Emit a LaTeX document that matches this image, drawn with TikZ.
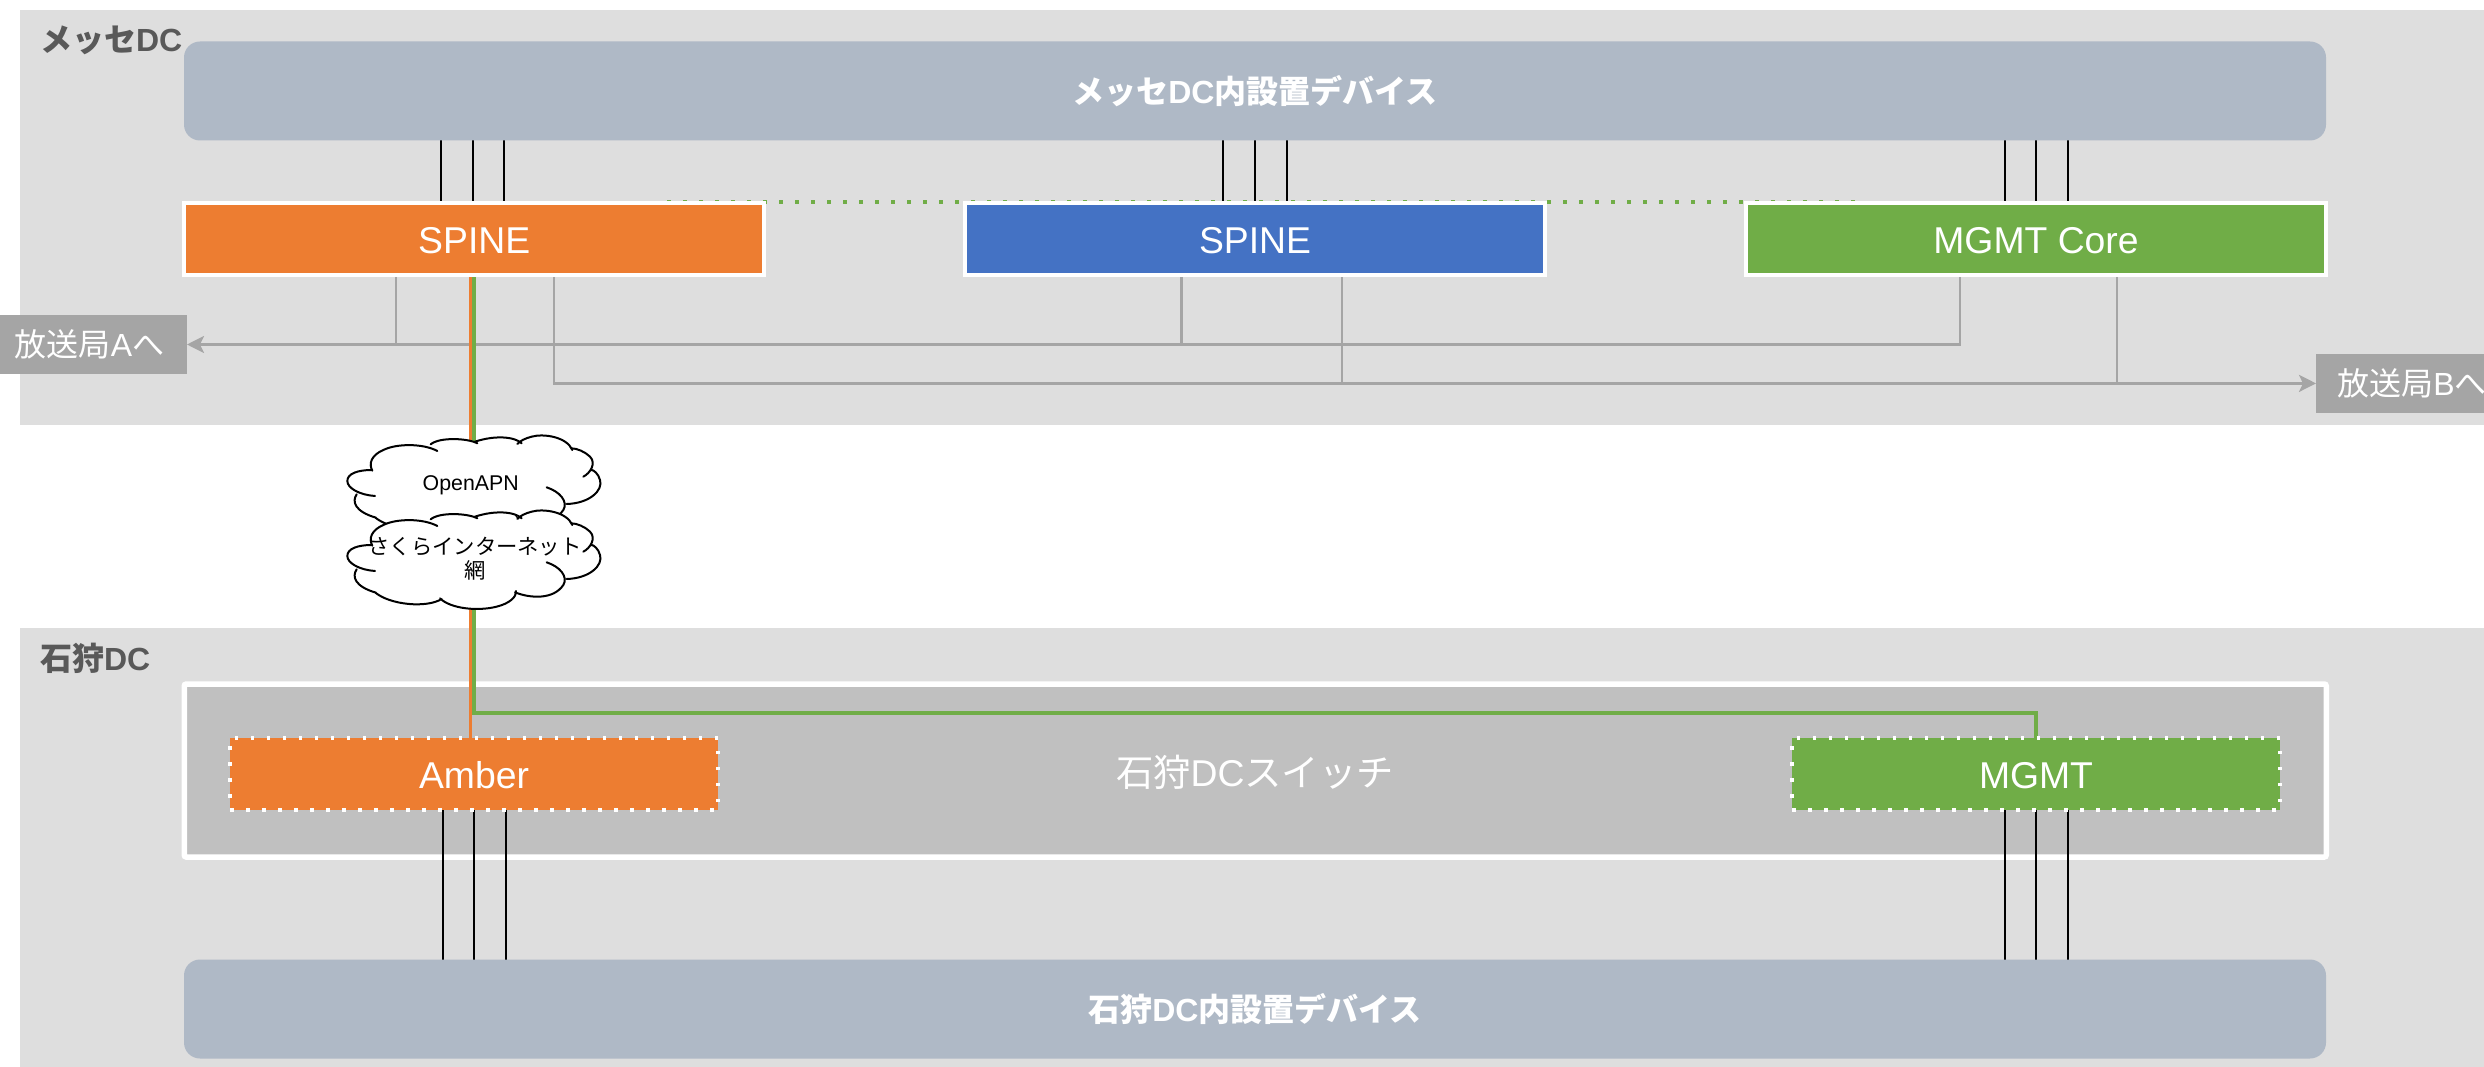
\documentclass[tikz,border=0pt]{standalone}
\usepackage{fontspec}
\setmainfont{Liberation Sans}
\newfontfamily\cjk{Noto Sans CJK JP}
\usetikzlibrary{arrows.meta,calc}
\definecolor{panelgray}{HTML}{DEDEDE}
\definecolor{devgray}{HTML}{AFB9C6}
\definecolor{swgray}{HTML}{C0C0C0}
\definecolor{outgray}{HTML}{A5A5A5}
\definecolor{labgray}{HTML}{595959}
\definecolor{orangeC}{HTML}{ED7D31}
\definecolor{blueC}{HTML}{4472C4}
\definecolor{greenC}{HTML}{70AD47}
\pgfdeclarelayer{panels}
\pgfdeclarelayer{links}
\pgfsetlayers{panels,links,main}
\newcommand{\fs}[1]{\fontsize{#1}{#1}\selectfont}
\tikzset{
  every node/.style={outer sep=0pt,inner sep=0pt},
  panelbox/.style={fill=panelgray,minimum width=2470pt},
  panellabel/.style={anchor=west,text=labgray,font=\fs{32}\bfseries},
  devbox/.style={fill=devgray,rounded corners=16pt,minimum width=2142pt,minimum height=99pt,text=white,font=\fs{32}\bfseries},
  corebox/.style={draw=white,line width=4pt,minimum width=580pt,minimum height=72pt,text=white,font=\fs{37.33},text height=28.2pt,text depth=0pt},
  edgebox/.style={draw=white,line width=3.5pt,dash pattern=on 3.5pt off 12.5pt,minimum width=488pt,minimum height=72pt,text=white,font=\fs{37.33},text height=28.2pt,text depth=0pt},
  swbox/.style={draw=white,line width=5.5pt,fill=swgray,rounded corners=2pt,minimum width=2142pt,minimum height=173pt},
  extbox/.style={fill=outgray,minimum width=192pt,minimum height=59pt,text=white,font=\fs{32}},
  tie/.style={draw=black,line width=2pt},
  uplink/.style={draw=outgray,line width=2.7pt},
  uparrow/.style={uplink,-{Stealth[length=17pt,width=17pt,inset=4pt]}},
  orangelink/.style={draw=orangeC,line width=3.7pt},
  greenlink/.style={draw=greenC,line width=3.7pt},
  dotlink/.style={draw=greenC,line width=3.5pt,dash pattern=on 4pt off 12pt},
  cloudline/.style={draw=black,line width=2pt,line cap=round},
  cloudtext/.style={text=black,font=\fs{21.33},align=center},
}
\newcommand{\cloudshape}[1]{%
\begin{scope}[shift={(#1)},x=0.33333pt,y=-0.33333pt]
\fill[white] (97,347) .. controls (85,325) and (95,300) .. (130,285) .. controls (170,265) and (250,265) .. (272,268)
 .. controls (300,245) and (385,250) .. (405,260) .. controls (465,240) and (525,245) .. (532,267)
 .. controls (540,258) and (555,250) .. (575,245) .. controls (610,235) and (680,245) .. (695,280)
 .. controls (710,280) and (735,290) .. (750,305) .. controls (770,325) and (760,340) .. (755,345)
 .. controls (760,345) and (775,355) .. (780,375) .. controls (790,405) and (750,445) .. (680,447)
 .. controls (680,455) and (675,460) .. (670,465) .. controls (640,510) and (570,505) .. (528,483)
 .. controls (530,500) and (510,520) .. (470,530) .. controls (410,545) and (330,535) .. (305,507)
 .. controls (260,535) and (150,525) .. (108,488) .. controls (45,470) and (35,440) .. (50,418)
 .. controls (22,400) and (22,390) .. (22,378) .. controls (22,355) and (55,345) .. (97,347) -- cycle;
\draw[cloudline] (97,347) .. controls (85,325) and (95,300) .. (130,285) .. controls (170,265) and (250,265) .. (292,288)
 (272,268) .. controls (300,245) and (385,250) .. (412,265)
 (405,260) .. controls (465,240) and (525,245) .. (545,265)
 (532,267) .. controls (540,258) and (555,250) .. (575,245) .. controls (610,235) and (680,245) .. (697,285)
 (695,280) .. controls (710,280) and (735,290) .. (750,305) .. controls (770,325) and (750,355) .. (730,365)
 (755,345) .. controls (760,345) and (775,355) .. (780,375) .. controls (790,405) and (750,445) .. (680,447)
 (620,397) .. controls (660,410) and (685,440) .. (670,465) .. controls (640,510) and (570,505) .. (525,487)
 (528,483) .. controls (530,500) and (510,520) .. (470,530) .. controls (410,545) and (330,535) .. (300,505)
 (305,507) .. controls (260,535) and (150,525) .. (105,487)
 (108,488) .. controls (45,470) and (35,440) .. (50,418)
 (105,423) .. controls (60,420) and (22,400) .. (22,378) .. controls (22,355) and (55,345) .. (95,345);
\end{scope}}
\begin{document}
\begin{tikzpicture}[x=1pt,y=-1pt]
\useasboundingbox (0,0) rectangle (2484,1067);

% panels
\begin{pgfonlayer}{panels}
\fill[white] (0,0) rectangle (2484,1067);
\node[panelbox,minimum height=415pt] (panelM) at (1255,217.5) {};
\node[panelbox,minimum height=442pt] (panelI) at (1255,849) {};
\node[swbox] (switch) at (1255.25,770.5) {};
\end{pgfonlayer}

\node[panellabel] (labM) at (40,40) {{\cjk メッセ}DC};
\node[panellabel] (labI) at (40,658) {{\cjk 石狩}DC};

% devices
\node[devbox] (devM) at (1255,91) {{\cjk メッセ}DC{\cjk 内設置デバイス}};
\node[devbox] (devI) at (1255,1009) {{\cjk 石狩}DC{\cjk 内設置デバイス}};

% core switches
\node[corebox,fill=orangeC] (spineO) at (474.25,239) {SPINE};
\node[corebox,fill=blueC] (spineB) at (1255,239) {SPINE};
\node[corebox,fill=greenC] (coreG) at (2036,239) {MGMT Core};

% Ishikari
\node[text=white,font=\fs{37.33}] (swlabel) at (1255,772) {{\cjk 石狩}DC{\cjk スイッチ}};
\node[edgebox,fill=orangeC] (amber) at (474,774) {Amber};
\node[edgebox,fill=greenC] (mgmt) at (2036,774) {MGMT};

% external
\node[extbox] (extA) at (91,344.5) {\hspace*{-3pt}{\cjk 放送局}A{\cjk へ}};
\node[extbox] (extB) at (2412,383.4) {{\cjk 放送局}B{\cjk へ}};

% clouds
\cloudshape{340,355}
\node[cloudtext] (cloudA) at (470.7,485) {OpenAPN};
\cloudshape{340,430}
\node[cloudtext] (cloudB) at (475,558.5) {{\cjk さくらインターネット}\\[3pt]{\cjk 網}};

\begin{pgfonlayer}{links}
% dotted link
\coordinate (dotL) at (667,202);
\coordinate (dotR) at (1855,202);
\draw[dotlink] (dotL) -- (dotR);
% device ties
\foreach \n/\a/\b/\c in {spineO/-33.25/-1.75/29.75,spineB/-32.2/-0.1/31.5,coreG/-31.5/0/32}{
  \foreach \d in {\a,\b,\c}{
    \draw[tie] ([xshift=\d pt]\n.north) -- ([xshift=\d pt]\n.north |- devM.south);
  }
}
\foreach \n in {amber,mgmt}{
  \foreach \d in {-31.5,0,31.5}{
    \draw[tie] ([xshift=\d pt]\n.south) -- ([xshift=\d pt]\n.south |- devI.north);
  }
}
% uplinks
\draw[uparrow] ([xshift=-76pt]coreG.south) |- (extA.east);
\draw[uparrow] ([xshift=79.75pt]spineO.south) |- (extB.west);
\draw[uplink] ([xshift=-78.25pt]spineO.south) -- ([xshift=-78.25pt]spineO.south |- extA.east);
\draw[uplink] ([xshift=-73.7pt]spineB.south) -- ([xshift=-73.7pt]spineB.south |- extA.east);
\draw[uplink] ([xshift=87pt]spineB.south) -- ([xshift=87pt]spineB.south |- extB.west);
\draw[uplink] ([xshift=81pt]coreG.south) -- ([xshift=81pt]coreG.south |- extB.west);
% WAN links
\draw[orangelink] ([xshift=-3.75pt]spineO.south) -- ([xshift=-3.75pt]spineO.south |- amber.north);
\draw[greenlink] (spineO.south) |- (713,712.7) -| (mgmt.north);
\end{pgfonlayer}
\end{tikzpicture}
\end{document}
